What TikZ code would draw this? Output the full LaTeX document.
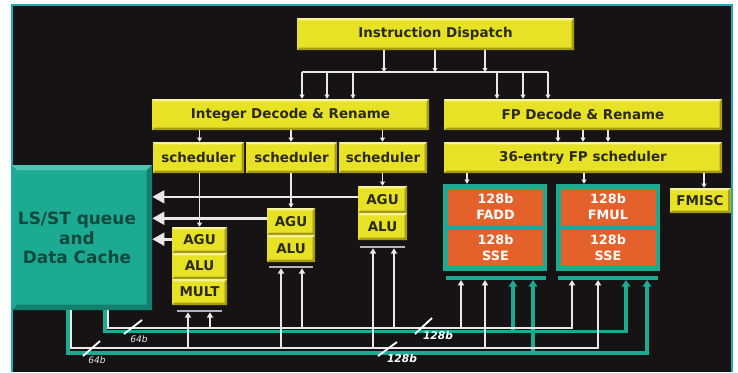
\documentclass[tikz,border=0pt]{standalone}
\usepackage{fontspec}
\setmainfont{DejaVu Sans}
\usetikzlibrary{arrows.meta}
\definecolor{bgc}{HTML}{161314}
\definecolor{framec}{HTML}{22A7B4}
\definecolor{yel}{HTML}{E8E226}
\definecolor{yellt}{HTML}{F7F39A}
\definecolor{yeldk}{HTML}{A69C14}
\definecolor{ytext}{HTML}{2C2A0E}
\definecolor{tealc}{HTML}{1DAA92}
\definecolor{teallt}{HTML}{4CC6AE}
\definecolor{tealdk}{HTML}{12806C}
\definecolor{ttext}{HTML}{0F4A3E}
\definecolor{orgc}{HTML}{E5612C}
\definecolor{wline}{HTML}{E8E8E8}
\definecolor{gbar}{HTML}{B4B4B4}
\begin{document}
\begin{tikzpicture}[x=0.75pt,y=-0.75pt,
  sz/.style 2 args={minimum width={#1*0.75pt},minimum height={#2*0.75pt}},
  bevel/.style n args={3}{path picture={
    \fill[#1] (path picture bounding box.north west) -- (path picture bounding box.north east)
      -- ([shift={(-#3,-#3)}]path picture bounding box.north east)
      -- ([shift={(#3,-#3)}]path picture bounding box.north west) -- cycle;
    \fill[#2] (path picture bounding box.north east) -- (path picture bounding box.south east)
      -- (path picture bounding box.south west) -- ([shift={(#3,#3)}]path picture bounding box.south west)
      -- ([shift={(-#3,#3)}]path picture bounding box.south east)
      -- ([shift={(-#3,-#3)}]path picture bounding box.north east) -- cycle;}},
  ybox/.style={fill=yel, inner sep=0pt, text=ytext, font=\fontsize{10.1}{12}\selectfont\bfseries, bevel={yellt}{yeldk}{1.8pt}},
  lsbox/.style={fill=tealc, inner sep=0pt, bevel={teallt}{tealdk}{4pt}},
  lstext/.style={text=ttext, align=center, font=\fontsize{12.7}{14.6}\selectfont\bfseries},
  fpbox/.style={fill=tealc, inner sep=0pt},
  ocell/.style={fill=orgc, inner sep=0pt, text=white, align=center, font=\fontsize{9.6}{12}\selectfont\bfseries},
  gbarst/.style={fill=gbar, inner sep=0pt},
  tbarst/.style={fill=tealc, inner sep=0pt},
  plain/.style={draw=wline, line width=1.2pt},
  sarr/.style={draw=wline, line width=1.2pt, -{Triangle[length=3pt,width=3.6pt]}},
  lsarr/.style={draw=wline, line width=2pt, -{Triangle[length=9pt,width=9.5pt]}},
  warr/.style={draw=wline, line width=1.1pt, -{Triangle[length=4pt,width=4.6pt]}},
  tarr/.style={draw=tealc, line width=2.6pt, -{Triangle[length=5pt,width=6.5pt]}},
  slash/.style={draw=white, line width=1.4pt},
  lab64/.style={text=wline, font=\fontsize{6.8}{8}\selectfont\itshape},
  lab128/.style={text=white, font=\fontsize{8}{9}\selectfont\bfseries\itshape}]
\useasboundingbox (0,0) rectangle (738,372);
% background and frame
\fill[white] (0,0) rectangle (738,372);
\fill[bgc] (12,5) rectangle (732,372);
\draw[framec, line width=1.5pt] (12,372) -- (12,5) -- (732,5) -- (732,372);

% front end
\node[ybox, sz={277}{32}] (disp) at (435.5,34) {Instruction Dispatch};
\node[ybox, sz={277}{31}] (intdec) at (290.5,114.5) {Integer Decode \& Rename};
\node[ybox, sz={278}{31}] (fpdec) at (583,114.5) {FP Decode \& Rename};
\node[ybox, sz={91}{31}] (sch1) at (198.5,157.5) {scheduler};
\node[ybox, sz={91}{31}] (sch2) at (291.5,157.5) {scheduler};
\node[ybox, sz={88}{31}] (sch3) at (383,157.5) {scheduler};
\node[ybox, sz={278}{31}] (fpsch) at (583,157.5) {36-entry FP scheduler};

% LS/ST queue
\node[lsbox, sz={140}{145}] (lsq) at (82,237.5) {};
\node[lstext] (lsqt) at (77,238) {LS/ST queue\\and\\Data Cache};

% integer units
\node[ybox, sz={55}{26}] (u1agu) at (199.5,240) {AGU};
\node[ybox, sz={55}{26}] (u1alu) at (199.5,266) {ALU};
\node[ybox, sz={55}{26}] (u1mult) at (199.5,292) {MULT};
\node[ybox, sz={48}{27}] (u2agu) at (291,221.5) {AGU};
\node[ybox, sz={48}{27}] (u2alu) at (291,248.5) {ALU};
\node[ybox, sz={49}{27}] (u3agu) at (382.5,199.5) {AGU};
\node[ybox, sz={49}{27}] (u3alu) at (382.5,226.5) {ALU};
\node[gbarst, sz={45}{2}] (bar1) at (199.5,311) {};
\node[gbarst, sz={44}{2}] (bar2) at (291,267) {};
\node[gbarst, sz={45}{2}] (bar3) at (382.5,247) {};

% FP units
\node[fpbox, sz={104}{87}] (fadd) at (495,227.5) {};
\node[ocell, sz={95}{36}] (fadd1) at (495.5,207) {128b\\FADD};
\node[ocell, sz={95}{36}] (fadd2) at (495.5,248) {128b\\SSE};
\node[fpbox, sz={104}{87}] (fmul) at (608,227.5) {};
\node[ocell, sz={95}{36}] (fmul1) at (608,207) {128b\\FMUL};
\node[ocell, sz={95}{36}] (fmul2) at (608,248) {128b\\SSE};
\node[ybox, sz={61}{25}] (fmisc) at (700,200.5) {FMISC};
\node[tbarst, sz={100}{3.5}] (fbar1) at (496,278) {};
\node[tbarst, sz={100}{3.5}] (fbar2) at (608,278) {};

% dispatch tree
\coordinate (dbus) at (0,72);
\foreach \x in {384,435,485} \draw[sarr] (disp.south -| \x,0) -- (dbus -| \x,0);
\draw[plain] (dbus -| 302,0) -- (dbus -| 548,0);
\foreach \x in {302,327,353} \draw[sarr] (dbus -| \x,0) -- (intdec.north -| \x,0);
\foreach \x in {497,523,548} \draw[sarr] (dbus -| \x,0) -- (fpdec.north -| \x,0);

% decode to schedulers
\foreach \s/\u in {sch1/u1agu,sch2/u2agu,sch3/u3agu} \draw[sarr] (intdec.south -| \u) -- (\s.north -| \u);
\foreach \x in {558,583,608} \draw[sarr] (fpdec.south -| \x,0) -- (fpsch.north -| \x,0);

% schedulers to units
\foreach \s/\u in {sch1/u1agu,sch2/u2agu,sch3/u3agu} \draw[sarr] (\s.south -| \u) -- (\u.north);
\draw[sarr] (fpsch.south -| 467,0) -- (fadd.north -| 467,0);
\draw[sarr] (fpsch.south -| 584,0) -- (fmul.north -| 584,0);
\draw[sarr] (fpsch.south -| 704,0) -- (fmisc.north -| 704,0);

% AGU to LS/ST queue
\draw[lsarr] ([yshift=2pt]u3agu.west) -- ([yshift=2pt]u3agu.west -| lsq.east);
\draw[lsarr] ([yshift=2.4pt]u2agu.west) -- ([yshift=2.4pt]u2agu.west -| lsq.east);
\draw[lsarr] ([yshift=0.6pt]u1agu.west) -- ([yshift=0.6pt]u1agu.west -| lsq.east);

% result buses
\coordinate (UW) at (0,328);
\coordinate (UT) at (0,331.5);
\coordinate (LW) at (0,348);
\coordinate (LT) at (0,353);
\draw[tarr] (lsq.south -| 105,0) |- (UT -| 626,0) -- (fbar2.south -| 626,0);
\draw[tarr] (lsq.south -| 68,0) |- (LT -| 647,0) -- (fbar2.south -| 647,0);
\draw[tarr] (UT -| 513,0) -- (fbar1.south -| 513,0);
\draw[tarr] (LT -| 533,0) -- (fbar1.south -| 533,0);
\draw[warr] (lsq.south -| 108,0) |- (UW -| 572,0) -- (fbar2.south -| 572,0);
\draw[warr] (lsq.south -| 71,0) |- (LW -| 598,0) -- (fbar2.south -| 598,0);
\foreach \x/\b in {210/bar1,302/bar2,394/bar3,461/fbar1} \draw[warr] (UW -| \x,0) -- (\b.south -| \x,0);
\foreach \x/\b in {188/bar1,281/bar2,373/bar3,485/fbar1} \draw[warr] (LW -| \x,0) -- (\b.south -| \x,0);

% bus width marks
\draw[slash] (124,334) -- (142,320);
\node[lab64] (w64a) at (139,339) {64b};
\draw[slash] (83,356) -- (100,341);
\node[lab64] (w64b) at (97,360) {64b};
\draw[slash] (415,334) -- (432,318);
\node[lab128] (w128a) at (438,336) {128b};
\draw[slash] (378,356) -- (397,342);
\node[lab128] (w128b) at (402,359) {128b};
\end{tikzpicture}
\end{document}
